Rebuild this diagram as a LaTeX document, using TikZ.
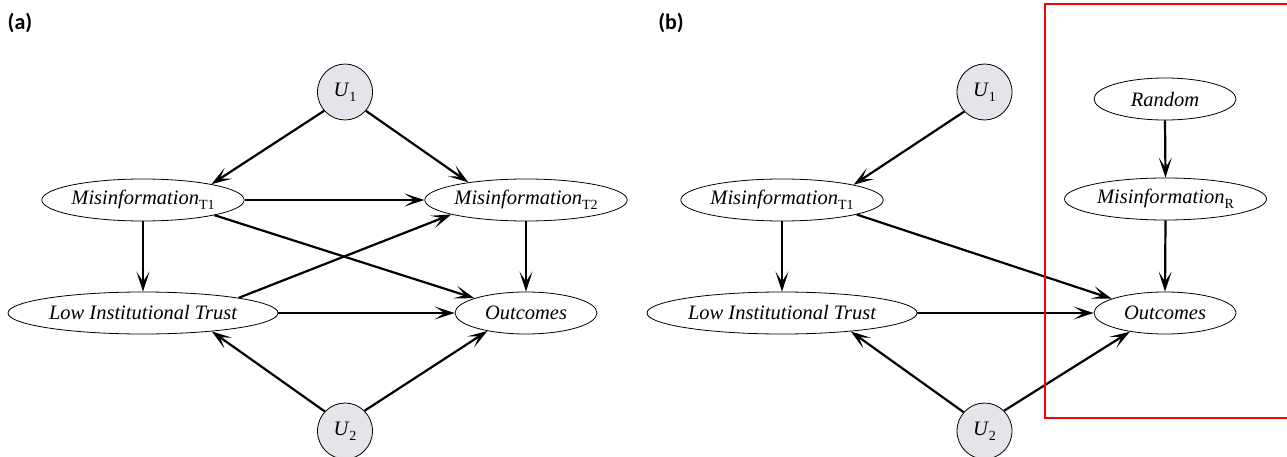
\documentclass[tikz,border=0pt]{standalone}
\usepackage{fontspec}
\setmainfont{Liberation Serif}
\newfontfamily\panelfont{Carlito}
\usetikzlibrary{arrows.meta,shapes.geometric}
\definecolor{ugray}{RGB}{228,228,234}
\newcommand{\sbx}[1]{\raisebox{-5pt}{\fontsize{14}{14}\selectfont\upshape #1}}
\begin{document}
\begin{tikzpicture}[x=1pt,y=-1pt,
  ell/.style={ellipse, draw, line width=0.8pt, inner sep=0pt, minimum height=42pt,
    font=\fontsize{20.5}{21}\selectfont\itshape},
  mtw/.style={ell, minimum width=202pt},
  litw/.style={ell, minimum width=270pt},
  outw/.style={ell, minimum width=142pt},
  uvar/.style={ellipse, draw, line width=0.8pt, fill=ugray, inner sep=0pt,
    minimum width=55pt, minimum height=56pt, font=\fontsize{20.5}{21}\selectfont},
  arr/.style={line width=2.2pt, -{Stealth[length=20pt,width=13pt,inset=10pt]}},
  panel/.style={font=\panelfont\bfseries\fontsize{22}{22}\selectfont, inner sep=0pt},
  redbox/.style={draw=red, line width=2.5pt}
]
\useasboundingbox (0,0) rectangle (1287,457);

% ---------- panel (a) ----------
\node[panel] (la) at (20,23) {(a)};
\node[uvar] (u1a) at (345,92) {\textit{U}\sbx{1}};
\node[mtw] (mt1a) at (143,200) {Misinformation\sbx{T1}};
\node[mtw] (mt2a) at (526,200) {Misinformation\sbx{T2}};
\node[litw] (lita) at (143,313) {Low Institutional Trust};
\node[outw] (outa) at (526,313) {Outcomes};
\node[uvar] (u2a) at (345,431) {\textit{U}\sbx{2}};

\draw[arr] (u1a.222) -- (mt1a.13);
\draw[arr] (u1a.318) -- (mt2a.163);
\draw[arr] (mt1a.east) -- (mt2a.west);
\draw[arr] (mt1a.south) -- (lita.north);
\draw[arr] (mt1a.348) -- (outa.164);
\draw[arr] (lita.9) -- (mt2a.191);
\draw[arr] (mt2a.south) -- (outa.north);
\draw[arr] (lita.east) -- (outa.west);
\draw[arr] (u2a.136) -- (lita.345);
\draw[arr] (u2a.46) -- (outa.205);

% ---------- panel (b) ----------
\node[panel] (lb) at (671,23) {(b)};
\node[uvar] (u1b) at (984.5,92) {\textit{U}\sbx{1}};
\node[mtw] (mt1b) at (782,200) {Misinformation\sbx{T1}};
\node[litw] (litb) at (782,313) {Low Institutional Trust};
\node[outw] (outb) at (1165,313) {Outcomes};
\node[uvar] (u2b) at (984.5,431) {\textit{U}\sbx{2}};
\node[outw] (rand) at (1165,99) {Random};
\node[mtw] (mr) at (1165.5,199) {Misinformation\sbx{R}};

\draw[arr] (u1b.224) -- (mt1b.12);
\draw[arr] (mt1b.south) -- (litb.north);
\draw[arr] (mt1b.349) -- (outb.165);
\draw[arr] (litb.east) -- (outb.west);
\draw[arr] (u2b.138) -- (litb.345);
\draw[arr] (u2b.46) -- (outb.208);
\draw[arr] (rand.south) -- (mr.north);
\draw[arr] (mr.south) -- (outb.north);

\draw[redbox] (1045,4) rectangle (1300,418);
\end{tikzpicture}
\end{document}
